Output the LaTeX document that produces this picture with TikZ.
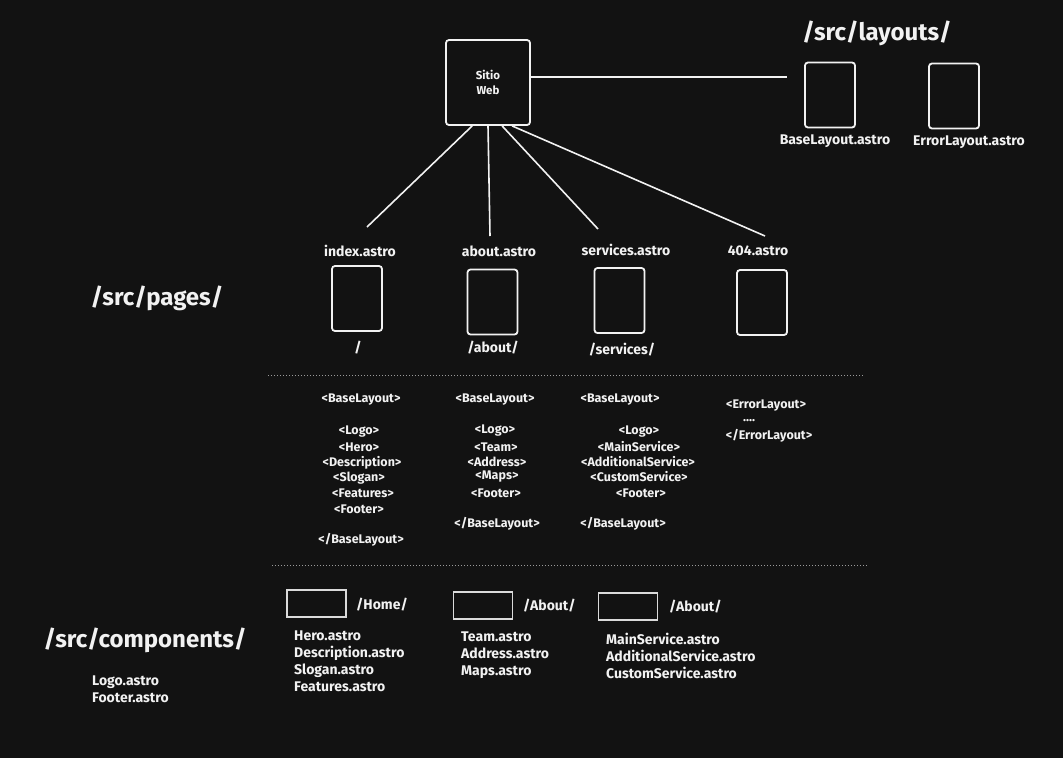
\documentclass[tikz,border=0pt]{standalone}
\usepackage{fontspec}
\setmainfont{Fira Sans}
\definecolor{bg}{HTML}{121212}
\definecolor{fg}{HTML}{F2F2F2}
\definecolor{dotc}{HTML}{9A9A9A}
\begin{document}
\begin{tikzpicture}[x=1pt,y=-1pt,
  pagebox/.style={draw=fg, line width=1.8pt, rounded corners=3pt, minimum width=50pt, minimum height=65pt, inner sep=0},
  webbox/.style={draw=fg, line width=1.8pt, rounded corners=3pt, minimum width=84pt, minimum height=85pt, inner sep=0, text=fg, font=\fontsize{11.5}{15}\selectfont\bfseries, align=center},
  compbox/.style={draw=fg!90!black, line width=1.3pt, minimum width=59pt, minimum height=27pt, inner sep=0},
  lbl/.style={text=fg, font=\fontsize{14}{16}\selectfont\bfseries, inner sep=0},
  tag/.style={text=fg, font=\fontsize{12.5}{14}\selectfont\bfseries, inner sep=0},
  big/.style={text=fg, font=\fontsize{24}{28}\selectfont\bfseries, inner sep=0},
  lst/.style={text=fg, font=\fontsize{14}{17}\selectfont\bfseries, inner sep=0, align=left, anchor=north west},
  conn/.style={draw=fg, line width=1.6pt},
  sep/.style={draw=dotc, line width=1pt, dash pattern=on 1pt off 2pt}
]
\fill[bg] (0,0) rectangle (1063,758);
\useasboundingbox (0,0) rectangle (1063,758);

% top
\node[webbox] (web) at (488,82.5) {Sitio\\Web};
\node[big] (layouts) at (877,33) {/src/layouts/};
\node[pagebox] (base) at (830,95) {};
\node[pagebox] (err) at (954,96) {};
\node[lbl] (baselbl) at (835,141) {BaseLayout.astro};
\node[lbl] (errlbl) at (969,142) {ErrorLayout.astro};
\coordinate (lend) at (787,77);
\draw[conn] (lend -| web.east) -- (lend);

% pages
\node[big] (pages) at (157,298) {/src/pages/};
\node[lbl] (idxlbl) at (360,251) {index.astro};
\node[lbl] (aboutlbl) at (499,251) {about.astro};
\node[lbl] (servlbl) at (626,250) {services.astro};
\node[lbl] (errpglbl) at (758,251) {404.astro};
\node[pagebox] (idx) at (357,298.5) {};
\node[pagebox] (about) at (492.5,302) {};
\node[pagebox] (serv) at (619.5,300.5) {};
\node[pagebox] (errpg) at (762,302.5) {};
\node[lbl] (idxurl) at (358,348) {/};
\node[lbl] (abouturl) at (493,348) {/about/};
\node[lbl] (servurl) at (622,350) {/services/};

\coordinate (e1) at (367,227);
\coordinate (e2) at (490,236);
\coordinate (e3) at (598,229);
\coordinate (e4) at (765,236);
\draw[conn] (web.250) -- (e1);
\draw[conn] (web.270) -- (e2);
\draw[conn] (web.288) -- (e3);
\draw[conn] (web.299) -- (e4);

% separator 1
\coordinate (s1a) at (268,375);
\coordinate (s1b) at (863,375);
\draw[sep] (s1a) -- (s1b);

% column 1
\node[tag] (c1a) at (361,400) {<BaseLayout>};
\node[tag] (c1b) at (359,432) {<Logo>};
\node[tag] (c1c) at (359,447) {<Hero>};
\node[tag] (c1d) at (362,463) {<Description>};
\node[tag] (c1e) at (359,478) {<Slogan>};
\node[tag] (c1f) at (363,493) {<Features>};
\node[tag] (c1g) at (359,509) {<Footer>};
\node[tag] (c1h) at (361,540) {</BaseLayout>};
% column 2
\node[tag] (c2a) at (495,400) {<BaseLayout>};
\node[tag] (c2b) at (495,431) {<Logo>};
\node[tag] (c2c) at (496,447) {<Team>};
\node[tag] (c2d) at (497,462) {<Address>};
\node[tag] (c2e) at (497,477) {<Maps>};
\node[tag] (c2f) at (496,493) {<Footer>};
\node[tag] (c2g) at (497,524) {</BaseLayout>};
% column 3
\node[tag] (c3a) at (620,400) {<BaseLayout>};
\node[tag] (c3b) at (639,432) {<Logo>};
\node[tag] (c3c) at (639,447) {<MainService>};
\node[tag] (c3d) at (638,462) {<AdditionalService>};
\node[tag] (c3e) at (639,477) {<CustomService>};
\node[tag] (c3f) at (641,493) {<Footer>};
\node[tag] (c3g) at (623,524) {</BaseLayout>};
% column 4
\node[tag] (c4a) at (766,406) {<ErrorLayout>};
\node[tag] (c4b) at (749,421) {....};
\node[tag] (c4c) at (769,436) {</ErrorLayout>};

% separator 2
\coordinate (s2a) at (272,565);
\coordinate (s2b) at (868,565);
\draw[sep] (s2a) -- (s2b);

% components
\node[big] (comps) at (145,640) {/src/components/};
\node[lst] (common) at (92,676) {Logo.astro\\Footer.astro};
\node[compbox] (home) at (316.5,603.5) {};
\node[lbl, anchor=west] (homelbl) at (356,605) {/Home/};
\node[compbox] (aboutc) at (483,605.5) {};
\node[lbl, anchor=west] (aboutclbl) at (523,606) {/About/};
\node[compbox] (servc) at (628,606.5) {};
\node[lbl, anchor=west] (servclbl) at (669,607) {/About/};
\node[lst] (homelist) at (294,631) {Hero.astro\\Description.astro\\Slogan.astro\\Features.astro};
\node[lst] (aboutlist) at (461,632) {Team.astro\\Address.astro\\Maps.astro};
\node[lst] (servlist) at (606,633) {MainService.astro\\AdditionalService.astro\\CustomService.astro};
\end{tikzpicture}
\end{document}
